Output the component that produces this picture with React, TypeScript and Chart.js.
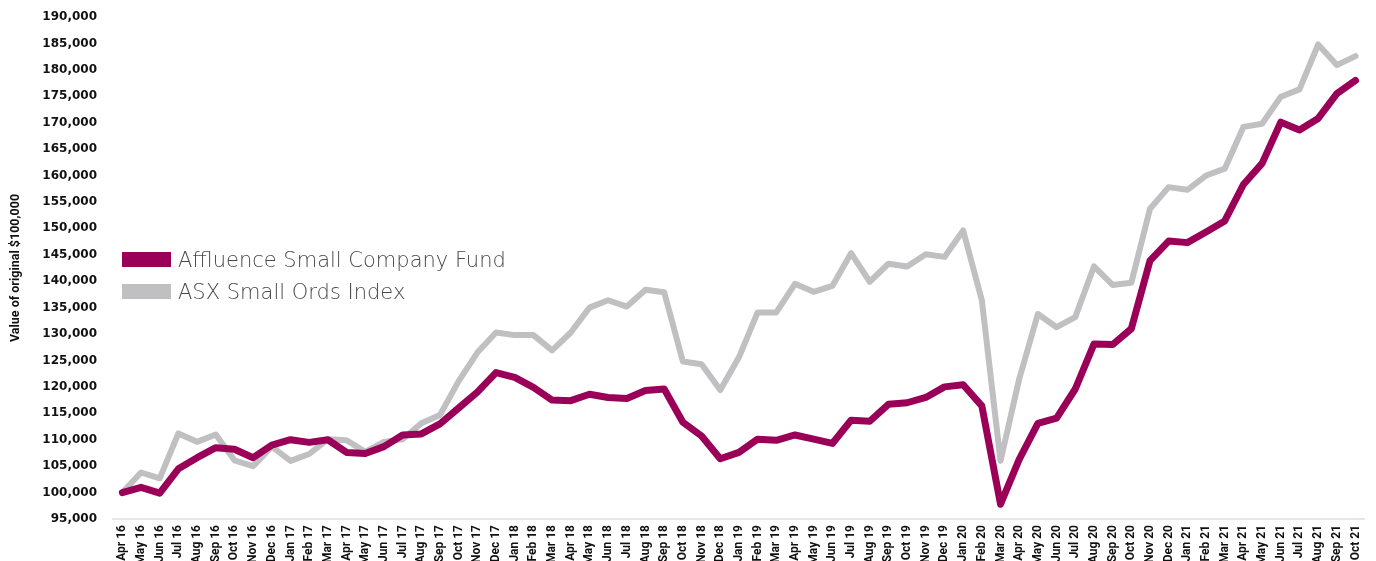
import { useEffect, useRef } from "react";
import { Chart, registerables } from "chart.js";

Chart.register(...registerables);

const months = [
  "Apr 16", "May 16", "Jun 16", "Jul 16", "Aug 16", "Sep 16", "Oct 16", "Nov 16", "Dec 16",
  "Jan 17", "Feb 17", "Mar 17", "Apr 17", "May 17", "Jun 17", "Jul 17", "Aug 17", "Sep 17", "Oct 17", "Nov 17", "Dec 17",
  "Jan 18", "Feb 18", "Mar 18", "Apr 18", "May 18", "Jun 18", "Jul 18", "Aug 18", "Sep 18", "Oct 18", "Nov 18", "Dec 18",
  "Jan 19", "Feb 19", "Mar 19", "Apr 19", "May 19", "Jun 19", "Jul 19", "Aug 19", "Sep 19", "Oct 19", "Nov 19", "Dec 19",
  "Jan 20", "Feb 20", "Mar 20", "Apr 20", "May 20", "Jun 20", "Jul 20", "Aug 20", "Sep 20", "Oct 20", "Nov 20", "Dec 20",
  "Jan 21", "Feb 21", "Mar 21", "Apr 21", "May 21", "Jun 21", "Jul 21", "Aug 21", "Sep 21", "Oct 21",
];

const fundValues = [
  100000, 101000, 99900, 104500, 106600, 108500, 108200, 106600, 109000,
  110000, 109500, 110000, 107600, 107400, 108700, 110900, 111100, 113000, 116000, 119000, 122700,
  121800, 119900, 117500, 117400, 118600, 118000, 117800, 119300, 119600, 113300, 110700, 106400,
  107600, 110100, 109900, 110900, 110100, 109300, 113700, 113500, 116700, 117000, 118000, 120000,
  120400, 116400, 97800, 106300, 113100, 114100, 119600, 128100, 128000, 131000, 143900, 147600,
  147300, 149300, 151400, 158300, 162300, 170100, 168600, 170800, 175500, 178000,
];

const indexValues = [
  100000, 103800, 102700, 111200, 109600, 111000, 106100, 105000, 108700,
  106000, 107300, 110100, 109900, 107700, 109600, 110100, 113100, 114700, 121100, 126500, 130300,
  129800, 129800, 126900, 130300, 135000, 136400, 135200, 138400, 137900, 124800, 124300, 119400,
  125600, 134100, 134100, 139500, 138000, 139100, 145300, 139900, 143300, 142800, 145100, 144600,
  149600, 136400, 106000, 121500, 133800, 131300, 133200, 142800, 139300, 139700, 153700, 157800,
  157300, 160000, 161300, 169200, 169800, 174900, 176300, 184800, 180900, 182600,
];

const seriesLabels = ["Affluence Small Company Fund", "ASX Small Ords Index"];
const seriesColors = ["#9b0058", "#c0c0c2"];
const yAxisTitle = "Value of original $100,000";
const yMin = 95000;
const yMax = 190000;
const yStep = 5000;

const legendPlugin = {
  id: "insideLegend",
  afterDraw(chart: any) {
    const { ctx, chartArea } = chart;
    ctx.save();
    chart.data.datasets.forEach((ds: any, i: number) => {
      const x = chartArea.left + 9;
      const y = chartArea.top + 235 + i * 32;
      ctx.fillStyle = ds.borderColor;
      ctx.fillRect(x, y, 49, 15);
      ctx.fillStyle = "#48494b";
      ctx.font = "200 21px 'DejaVu Sans', sans-serif";
      ctx.textBaseline = "alphabetic";
      ctx.textAlign = "left";
      ctx.fillText(ds.label, x + 56, y + 15);
    });
    ctx.restore();
  },
};

export default function App() {
  const canvasRef = useRef<HTMLCanvasElement | null>(null);

  useEffect(() => {
    document.body.style.margin = "0";
    const canvas = canvasRef.current;
    if (!canvas) return;
    const condensed = "'Liberation Sans Narrow', Roboto, sans-serif";
    const chart = new Chart(canvas, {
      type: "line",
      data: {
        labels: months,
        datasets: [
          {
            label: seriesLabels[0],
            data: fundValues,
            borderColor: seriesColors[0],
            backgroundColor: seriesColors[0],
            borderWidth: 7,
            pointRadius: 0,
            tension: 0,
            borderJoinStyle: "round",
            borderCapStyle: "round",
          },
          {
            label: seriesLabels[1],
            data: indexValues,
            borderColor: seriesColors[1],
            backgroundColor: seriesColors[1],
            borderWidth: 6,
            pointRadius: 0,
            tension: 0,
            borderJoinStyle: "round",
            borderCapStyle: "round",
          },
        ],
      },
      options: {
        animation: false,
        responsive: true,
        maintainAspectRatio: false,
        layout: { padding: { top: 17, right: 10, left: 0, bottom: 0 } },
        plugins: {
          legend: { display: false },
          tooltip: { enabled: false },
        },
        scales: {
          x: {
            offset: true,
            grid: { display: false, drawTicks: false },
            border: { display: true, color: "#e3e7ee", width: 2 },
            ticks: {
              autoSkip: false,
              maxRotation: 90,
              minRotation: 90,
              padding: 6,
              color: "#111111",
              font: { family: condensed, size: 12, weight: "bold" },
            },
            afterFit: (s: any) => {
              s.height = 42;
            },
          },
          y: {
            min: yMin,
            max: yMax,
            grid: { display: false, drawTicks: false },
            border: { display: false },
            ticks: {
              stepSize: yStep,
              padding: 16,
              color: "#111111",
              font: { family: "'DejaVu Sans', Verdana, sans-serif", size: 12, weight: "bold" },
              callback: (v: any) => Number(v).toLocaleString("en-US"),
            },
            title: {
              display: true,
              text: yAxisTitle,
              color: "#111111",
              padding: { top: 8, bottom: 0 },
              font: { family: condensed, size: 12.5, weight: "bold" },
            },
            afterFit: (s: any) => {
              s.width = 113;
              s.paddingTop = 0;
              s.paddingBottom = 0;
            },
          },
        },
      },
      plugins: [legendPlugin],
    });
    return () => chart.destroy();
  }, []);

  return (
    <div style={{ position: "relative", width: 1376, height: 561 }}>
      <canvas ref={canvasRef} />
    </div>
  );
}
